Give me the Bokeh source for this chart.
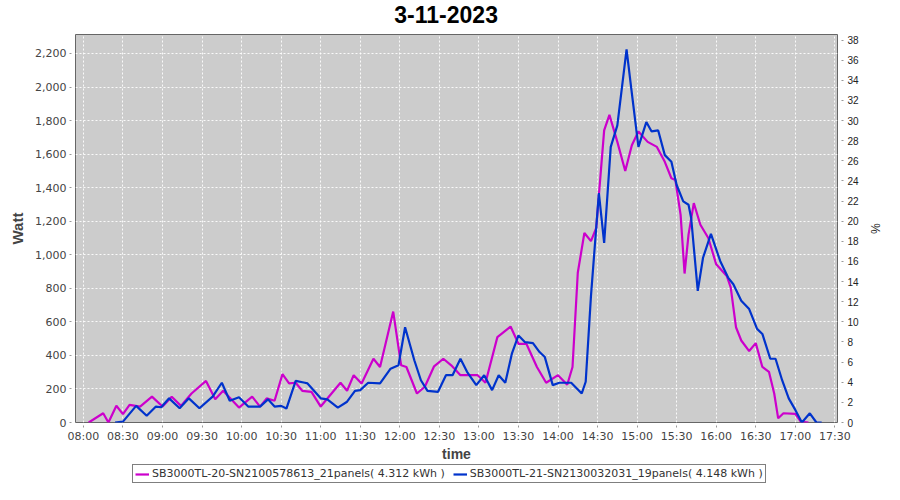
from bokeh.plotting import figure
from bokeh.layouts import column
from bokeh.models import (Range1d, LinearAxis, SingleIntervalTicker, FixedTicker,
                          NumeralTickFormatter, Legend, LegendItem, Label)
from bokeh.embed import file_html
from bokeh.resources import INLINE

title_text = "3-11-2023"
tick_labels = ["08:00", "08:30", "09:00", "09:30", "10:00", "10:30", "11:00", "11:30",
               "12:00", "12:30", "13:00", "13:30", "14:00", "14:30", "15:00", "15:30",
               "16:00", "16:30", "17:00", "17:30"]

inverter_names = ["SB3000TL-20-SN2100578613_21panels", "SB3000TL-21-SN2130032031_19panels"]
inverter_kwh = [4.312, 4.148]

s1_times = ["08:04", "08:15", "08:19", "08:25", "08:30", "08:35", "08:43", "08:52", "09:00", "09:07",
            "09:14", "09:22", "09:33", "09:40", "09:46", "09:58", "10:08", "10:14", "10:19", "10:25",
            "10:31", "10:36", "10:41", "10:46", "10:53", "11:00", "11:15", "11:20", "11:25", "11:31",
            "11:40", "11:45", "11:55", "12:01", "12:05", "12:13", "12:19", "12:26", "12:33", "12:39",
            "12:46", "12:59", "13:05", "13:14", "13:24", "13:30", "13:36", "13:44", "13:51", "14:00",
            "14:07", "14:11", "14:15", "14:20", "14:25", "14:29", "14:35", "14:39", "14:45", "14:51",
            "14:56", "15:01", "15:08", "15:15", "15:21", "15:26", "15:29", "15:33", "15:36", "15:39",
            "15:43", "15:48", "15:54", "16:00", "16:08", "16:11", "16:15", "16:19", "16:25", "16:30",
            "16:35", "16:40", "16:44", "16:47", "16:51", "17:00", "17:04", "17:10"]
s1_watt = [0, 55, 0, 100, 50, 105, 95, 154, 95, 154,
           99, 173, 248, 138, 189, 89, 154, 95, 144, 130,
           288, 233, 237, 189, 183, 95, 237, 189, 282, 233,
           380, 331, 661, 341, 331, 173, 213, 335, 380, 341,
           282, 282, 237, 509, 572, 469, 469, 331, 237, 282,
           225, 331, 893, 1130, 1081, 1160, 1741, 1834, 1673, 1499,
           1653, 1735, 1673, 1643, 1554, 1456, 1446, 1238, 888, 1120,
           1308, 1179, 1100, 943, 874, 805, 568, 489, 426, 473,
           331, 302, 173, 25, 55, 51, 6, 0]

s2_times = ["08:24", "08:30", "08:40", "08:48", "08:55", "08:59", "09:05", "09:13", "09:20", "09:28",
            "09:38", "09:45", "09:51", "09:58", "10:05", "10:14", "10:20", "10:25", "10:30", "10:34",
            "10:41", "10:48", "10:50", "11:00", "11:05", "11:13", "11:20", "11:26", "11:30", "11:36",
            "11:45", "11:53", "11:59", "12:04", "12:11", "12:16", "12:21", "12:29", "12:35", "12:40",
            "12:46", "12:51", "12:58", "13:04", "13:10", "13:15", "13:20", "13:25", "13:30", "13:35",
            "13:41", "13:46", "13:50", "13:56", "14:01", "14:10", "14:18", "14:21", "14:25", "14:31",
            "14:35", "14:40", "14:45", "14:52", "14:55", "15:01", "15:07", "15:11", "15:16", "15:21",
            "15:26", "15:30", "15:35", "15:39", "15:41", "15:46", "15:50", "15:56", "16:03", "16:09",
            "16:13", "16:19", "16:25", "16:31", "16:35", "16:41", "16:45", "16:50", "16:55", "17:00",
            "17:05", "17:11", "17:16", "17:20"]
s2_watt = [0, 5, 99, 40, 95, 91, 144, 85, 144, 85,
           154, 237, 130, 150, 95, 95, 138, 95, 99, 83,
           248, 237, 233, 144, 138, 89, 124, 189, 193, 237,
           233, 321, 341, 568, 371, 252, 189, 183, 282, 282,
           380, 302, 223, 282, 193, 282, 237, 410, 519, 479,
           473, 420, 390, 223, 237, 237, 173, 243, 755, 1367,
           1071, 1643, 1771, 2225, 2028, 1643, 1791, 1735, 1741, 1594,
           1554, 1416, 1318, 1298, 1219, 785, 982, 1124, 963, 864,
           824, 726, 676, 558, 528, 380, 380, 252, 144, 75,
           0, 55, 0, 0]

x_start, x_end = "07:54", "17:32"
watt_max = 2313
capacity_watt = 6000  # right axis: percentage of capacity

series_colors = ["#cc00cc", "#0033cc"]


def to_min(s):
    h, m = s.split(":")
    return int(h) * 60 + int(m)


def strip(height):
    f = figure(width=884, height=height, output_backend="svg", toolbar_location=None, title=None,
               x_range=Range1d(0, 1), y_range=Range1d(0, 1), min_border=0,
               outline_line_color=None, background_fill_color="white", border_fill_color="white")
    f.axis.visible = False
    f.grid.visible = False
    return f


# title strip (its frame is aligned with the chart's frame: 75..846 px)
tf = strip(27)
tf.add_layout(Label(x=(450 - 75) / 771, y=0.5, text=title_text, text_align="center",
                    text_baseline="middle", text_font="Liberation Sans", text_font_size="23px",
                    text_font_style="bold", text_color="black"))

p = figure(width=884, height=437, output_backend="svg", toolbar_location=None,
           x_range=Range1d(to_min(x_start), to_min(x_end)), y_range=Range1d(0, watt_max),
           min_border_left=75, min_border_right=38, min_border_top=7, min_border_bottom=41,
           background_fill_color="#cccccc", border_fill_color="white",
           outline_line_color="#666666", outline_line_width=1)

lines = []
for times, vals, col in [(s1_times, s1_watt, series_colors[0]), (s2_times, s2_watt, series_colors[1])]:
    r = p.line([to_min(t) for t in times], vals, line_color=col, line_width=2.2)
    lines.append(r)

tick_pos = [to_min(t) for t in tick_labels]
p.xaxis.ticker = FixedTicker(ticks=tick_pos)
p.xaxis.major_label_overrides = {t: l for t, l in zip(tick_pos, tick_labels)}
p.xaxis.axis_label = "time"

p.yaxis.ticker = SingleIntervalTicker(interval=200)
p.yaxis.formatter = NumeralTickFormatter(format="0,0")
p.yaxis.axis_label = "Watt"

p.extra_y_ranges = {"pct": Range1d(0, watt_max * 100 / capacity_watt)}
rax = LinearAxis(y_range_name="pct", ticker=SingleIntervalTicker(interval=2), axis_label="%")
p.add_layout(rax, "right")

for ax in [p.xaxis[0], p.yaxis[0]]:
    ax.axis_line_color = None
    ax.major_tick_in = -4
    ax.major_tick_out = 6
    ax.major_tick_line_color = "#999999"
    ax.minor_tick_line_color = None
    ax.major_label_text_font = "DejaVu Sans"
    ax.major_label_text_font_size = "11px"
    ax.major_label_text_color = "#444444"
    ax.major_label_standoff = 3
    ax.axis_label_text_font = "Liberation Sans"
    ax.axis_label_text_font_size = "15px"
    ax.axis_label_text_font_style = "bold"
    ax.axis_label_text_color = "#444444"
    ax.axis_label_standoff = 6
xa = p.xaxis[0]
xa.major_tick_in = -3
xa.major_tick_out = 5
xa.major_label_standoff = 2
xa.axis_label_standoff = 0
xa.axis_label_text_font_size = "14px"

rax.axis_line_color = None
rax.major_tick_in = -4
rax.major_tick_out = 6
rax.major_tick_line_color = "#999999"
rax.minor_tick_line_color = None
rax.major_label_text_font = "Liberation Sans"
rax.major_label_text_font_size = "10px"
rax.major_label_text_color = "#222222"
rax.major_label_standoff = 4
rax.axis_label_text_font = "Liberation Sans"
rax.axis_label_text_font_size = "12px"
rax.axis_label_text_font_style = "normal"
rax.axis_label_text_color = "#222222"
rax.axis_label_standoff = 6

for g in [p.xgrid[0], p.ygrid[0]]:
    g.grid_line_color = "white"
    g.grid_line_dash = "2 2"
    g.grid_line_width = 1
    g.grid_line_alpha = 0.9

# legend strip below the chart
lf = strip(20)
swatches = [lf.line([5, 6], [5, 6], line_color=c, line_width=2.2) for c in series_colors]
items = [LegendItem(label=f"{n}( {k:.3f} kWh )", renderers=[r])
         for n, k, r in zip(inverter_names, inverter_kwh, swatches)]
legend = Legend(items=items, orientation="horizontal", location=(57, 1),
                border_line_color="black", border_line_width=1, margin=0, padding=2,
                spacing=8, glyph_width=14, glyph_height=12, label_standoff=3,
                label_text_font="DejaVu Sans", label_text_font_size="11px",
                label_text_color="#333333", label_height=12,
                background_fill_color="white", background_fill_alpha=1)
lf.add_layout(legend, "center")

layout = column(tf, p, lf, spacing=0)
open("out.html", "w").write(file_html(layout, INLINE))
